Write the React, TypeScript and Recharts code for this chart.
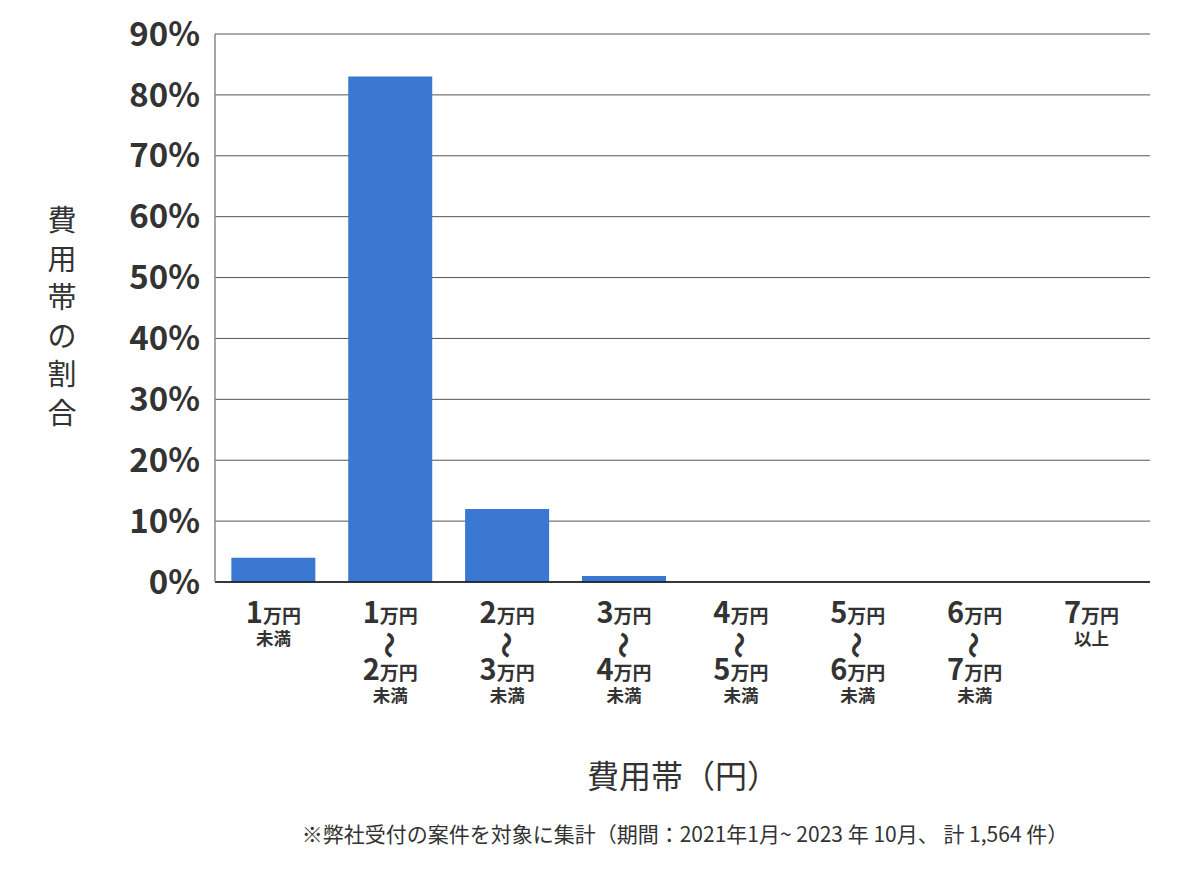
import { Bar, BarChart, CartesianGrid, XAxis, YAxis } from "recharts";

const lowerLabels = ["1", "1", "2", "3", "4", "5", "6", "7"];
const upperLabels = ["", "2", "3", "4", "5", "6", "7", ""];
const suffixLabels = ["未満", "未満", "未満", "未満", "未満", "未満", "未満", "以上"];
const shares = [4, 83, 12, 1, 0, 0, 0, 0];
const yTicks = [0, 10, 20, 30, 40, 50, 60, 70, 80, 90];
const yTitle = ["費", "用", "帯", "の", "割", "合"];

const data = shares.map((v, i) => ({ idx: i, share: v }));

const FONT = "'Noto Sans CJK JP', 'Noto Sans', sans-serif";

function RangeTick(props: any) {
  const { x, payload } = props;
  const i = payload.value as number;
  const upper = upperLabels[i];
  const numStyle = { fontFamily: FONT, fontWeight: 700, fill: "#333" };
  const line = (num: string, y: number) => (
    <text x={x} y={y} textAnchor="middle" style={numStyle}>
      <tspan fontSize={29}>{num}</tspan>
      <tspan fontSize={19}>万円</tspan>
    </text>
  );
  if (!upper) {
    return (
      <g>
        {line(lowerLabels[i], 623)}
        <text x={x} y={645} textAnchor="middle" fontSize={17.5} style={numStyle}>
          {suffixLabels[i]}
        </text>
      </g>
    );
  }
  return (
    <g>
      {line(lowerLabels[i], 623)}
      <text
        x={0}
        y={0}
        textAnchor="middle"
        fontSize={27}
        style={numStyle}
        transform={`translate(${x},645) rotate(90)`}
        dominantBaseline="central"
      >
        〜
      </text>
      {line(upper, 680)}
      <text x={x} y={702} textAnchor="middle" fontSize={17.5} style={numStyle}>
        {suffixLabels[i]}
      </text>
    </g>
  );
}

export default function App() {
  return (
    <div style={{ position: "absolute", left: 0, top: 0, width: 1200, height: 874, background: "#fff" }}>
      <BarChart
        width={1200}
        height={874}
        data={data}
        margin={{ top: 34, right: 50, left: 0, bottom: 0 }}
        barCategoryGap="14%"
      >
        <CartesianGrid horizontal vertical={false} stroke="#555" strokeOpacity={1} />
        <XAxis
          dataKey="idx"
          type="category"
          axisLine={{ stroke: "#111", strokeWidth: 1.5 }}
          tickLine={false}
          tick={<RangeTick />}
          interval={0}
          height={292}
        />
        <YAxis
          width={215}
          domain={[0, 90]}
          ticks={yTicks}
          interval={0}
          tickFormatter={(v) => `${v}%`}
          axisLine={{ stroke: "#888", strokeWidth: 1.5 }}
          tickLine={false}
          tickSize={0}
          tickMargin={15}
          tick={{ fontFamily: FONT, fontWeight: 700, fontSize: 33, fill: "#333" }}
        />
        <Bar dataKey="share" fill="#3b78d4" isAnimationActive={false} />
      </BarChart>
      <svg
        width={1200}
        height={874}
        style={{ position: "absolute", left: 0, top: 0, pointerEvents: "none" }}
      >
        {yTitle.map((ch, i) => (
          <text
            key={ch}
            x={62}
            y={218 + i * 38.6}
            textAnchor="middle"
            dominantBaseline="central"
            fontSize={29}
            fill="#333"
            fontFamily={FONT}
          >
            {ch}
          </text>
        ))}
        <text x={683} y={788} textAnchor="middle" fontSize={32} fill="#333" fontFamily={FONT}>
          費用帯（円）
        </text>
        <text x={685} y={842} textAnchor="middle" fontSize={21} fill="#333" fontFamily={FONT}>
          ※弊社受付の案件を対象に集計（期間：2021年1月~ 2023 年 10月、 計 1,564 件）
        </text>
      </svg>
    </div>
  );
}
